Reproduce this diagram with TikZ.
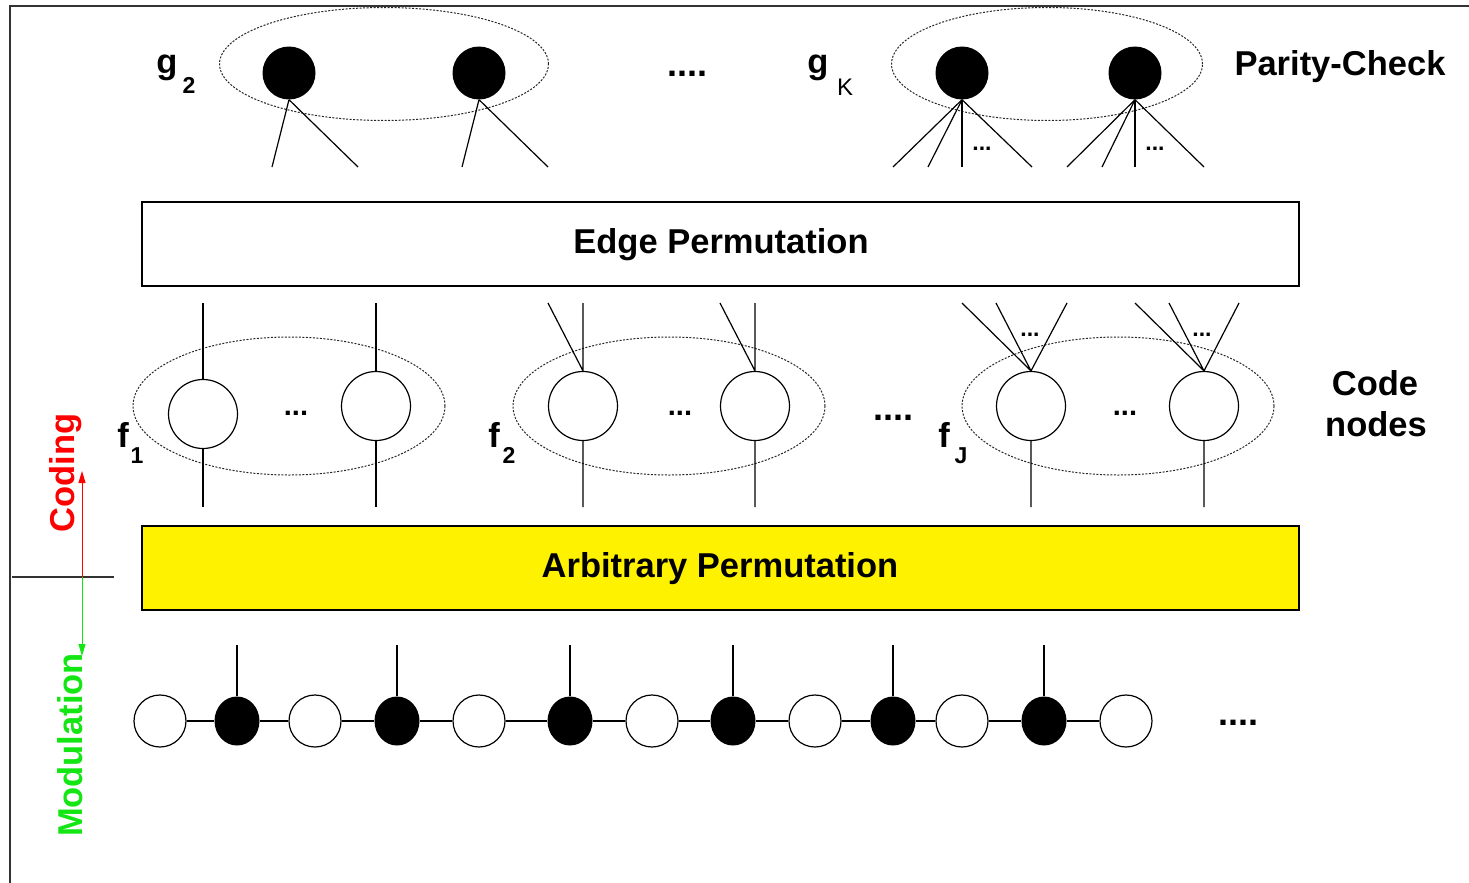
\documentclass[tikz,border=0pt]{standalone}
\usepackage{fontspec}
\setmainfont{Liberation Sans}
\usetikzlibrary{shapes.geometric,arrows.meta}
\definecolor{modgreen}{RGB}{20,230,20}
\begin{document}
\begin{tikzpicture}[x=1pt,y=-1pt,
 lbl/.style={font=\fontsize{34.5}{40}\selectfont\bfseries, inner sep=0pt, anchor=base},
 sub/.style={font=\fontsize{23}{28}\selectfont\bfseries, inner sep=0pt, anchor=base},
 blk/.style={circle, fill=black, inner sep=0pt, minimum size=53pt},
 cnode/.style={circle, draw, line width=1.2pt, inner sep=0pt, minimum size=69pt},
 cw/.style={circle, draw, line width=1.2pt, fill=white, inner sep=0pt, minimum size=52pt},
 cb/.style={ellipse, fill=black, inner sep=0pt, minimum width=45pt, minimum height=49pt},
 grp/.style={ellipse, draw=black!85, dash pattern=on 2pt off 1.5pt, line width=1pt, inner sep=0pt},
 box/.style={draw, line width=1.3pt, inner sep=0pt, minimum width=1157pt, minimum height=84pt},
 wire/.style={line width=1.2pt},
 dots/.style={font=\fontsize{36}{40}\selectfont\bfseries, inner sep=0pt, anchor=base},
 mdots/.style={font=\fontsize{29}{34}\selectfont\bfseries, inner sep=0pt, anchor=base},
 sdots/.style={font=\fontsize{23}{26}\selectfont\bfseries, inner sep=0pt, anchor=base}
]
\useasboundingbox (0,0) rectangle (1469,883);
% frame
\coordinate (fb) at (10,883); \coordinate (fc) at (10,6); \coordinate (fr) at (1469,6);
\draw[line width=1.3pt, black!80] (fb) -- (fc) -- (fr);

% ---------- parity-check nodes ----------
\node[grp, minimum width=329pt, minimum height=113pt] (G2) at (384,64) {};
\node[grp, minimum width=311pt, minimum height=113pt] (GK) at (1047,64) {};
\node[blk] (g2a) at (289,73) {};
\node[blk] (g2b) at (479,73) {};
\node[blk] (gKa) at (962,73) {};
\node[blk] (gKb) at (1135,73) {};
\coordinate (a1) at (272,167); \coordinate (a2) at (358,167);
\coordinate (b1) at (462,167); \coordinate (b2) at (548,167);
\coordinate (k1) at (893,167); \coordinate (k2) at (928,167);
\coordinate (k3) at (962,167); \coordinate (k4) at (1032,167);
\coordinate (l1) at (1067,167); \coordinate (l2) at (1102,167);
\coordinate (l3) at (1135,167); \coordinate (l4) at (1204,167);
\draw[wire] (g2a.south) -- (a1) (g2a.south) -- (a2);
\draw[wire] (g2b.south) -- (b1) (g2b.south) -- (b2);
\foreach \c in {k1,k2,k3,k4} \draw[wire] (gKa.south) -- (\c);
\foreach \c in {l1,l2,l3,l4} \draw[wire] (gKb.south) -- (\c);
\node[sdots] (kd1) at (982,150) {...};
\node[sdots] (kd2) at (1155,150) {...};
\node[lbl] (g2l) at (167,74) {g};
\node[sub] (g2s) at (189,93) {2};
\node[dots] (topdots) at (687,77) {....};
\node[lbl] (gKl) at (818,74) {g};
\node[inner sep=0pt, anchor=base, font=\fontsize{24}{28}\selectfont] (gKs) at (845,95) {K};
\node[lbl] (pc) at (1340,75) {Parity-Check};

% ---------- edge permutation ----------
\node[box] (edge) at (720.5,244) {};
\node[lbl] (edgel) at (721,253) {Edge Permutation};

% ---------- code nodes ----------
\node[grp, minimum width=312pt, minimum height=138pt] (E1) at (289,406) {};
\node[grp, minimum width=312pt, minimum height=138pt] (E2) at (669,406) {};
\node[grp, minimum width=312pt, minimum height=138pt] (EJ) at (1118,406) {};
\node[cnode] (f1a) at (203,414) {};
\node[cnode] (f1b) at (376,406) {};
\node[cnode] (f2a) at (583,406) {};
\node[cnode] (f2b) at (755,406) {};
\node[cnode] (fJa) at (1031,406) {};
\node[cnode] (fJb) at (1204,406) {};
% top ends
\coordinate (u1) at (203,303); \coordinate (u2) at (376,303);
\coordinate (u3) at (583,303); \coordinate (u3s) at (548,303);
\coordinate (u4) at (755,303); \coordinate (u4s) at (720,303);
\coordinate (u5a) at (962,303); \coordinate (u5b) at (996,303); \coordinate (u5c) at (1067,303);
\coordinate (u6a) at (1135,303); \coordinate (u6b) at (1169,303); \coordinate (u6c) at (1239,303);
% bottom ends
\coordinate (d1) at (203,507); \coordinate (d2) at (376,507);
\coordinate (d3) at (583,507); \coordinate (d4) at (755,507);
\coordinate (d5) at (1031,507); \coordinate (d6) at (1204,507);
\draw[wire] (f1a.north) -- (u1) (f1a.south) -- (d1);
\draw[wire] (f1b.north) -- (u2) (f1b.south) -- (d2);
\draw[wire] (f2a.north) -- (u3) (f2a.north) -- (u3s) (f2a.south) -- (d3);
\draw[wire] (f2b.north) -- (u4) (f2b.north) -- (u4s) (f2b.south) -- (d4);
\draw[wire] (fJa.north) -- (u5a) (fJa.north) -- (u5b) (fJa.north) -- (u5c) (fJa.south) -- (d5);
\draw[wire] (fJb.north) -- (u6a) (fJb.north) -- (u6b) (fJb.north) -- (u6c) (fJb.south) -- (d6);
\node[sdots] (jd1) at (1030,336) {...};
\node[sdots] (jd2) at (1202,336) {...};
\node[mdots] (e1d) at (296,415) {...};
\node[mdots] (e2d) at (680,415) {...};
\node[mdots] (eJd) at (1125,415) {...};
\node[dots] (middots) at (893,420) {....};
\node[lbl] (f1l) at (123,447) {f};
\node[sub] (f1s) at (137,463) {1};
\node[lbl] (f2l) at (494,447) {f};
\node[sub] (f2s) at (509,463) {2};
\node[lbl] (fJl) at (944,447) {f};
\node[sub] (fJs) at (961,463) {J};
\node[lbl] (cn1) at (1375,395) {Code};
\node[lbl] (cn2) at (1376,436) {nodes};

% ---------- arbitrary permutation ----------
\node[box, fill=yellow] (arb) at (720.5,568) {};
\node[lbl] (arbl) at (720,577) {Arbitrary Permutation};

% ---------- coding / modulation ----------
\coordinate (hl) at (12,577); \coordinate (hr) at (114,577);
\draw[line width=1.2pt, black!80] (hl) -- (hr);
\coordinate (mid) at (82,577); \coordinate (up) at (82,471); \coordinate (dn) at (82,656);
\draw[red, line width=1pt, -{Triangle[length=12pt,width=7pt]}] (mid) -- (up);
\draw[modgreen, line width=1pt, -{Triangle[length=12pt,width=7pt]}] (mid) -- (dn);
\node[lbl, red, rotate=90] (coding) at (74,473) {Coding};
\node[lbl, modgreen, rotate=90] (modul) at (82,745) {Modulation};

% ---------- modulation chain ----------
\foreach \x [count=\i] in {160,237,315,397,479,570,652,733,815,893,962,1044,1126} {
  \ifodd\i
    \node[cw] (c\i) at (\x,721) {};
  \else
    \node[cb] (c\i) at (\x,721) {};
    \coordinate (t\i) at (\x,645);
    \draw[wire] (c\i.north) -- (t\i);
  \fi
}
\foreach \i in {1,...,12} {
  \pgfmathtruncatemacro\nxt{\i+1}
  \draw[wire] (c\i) -- (c\nxt);
}
\node[dots] (chdots) at (1238,725) {....};
\end{tikzpicture}
\end{document}
